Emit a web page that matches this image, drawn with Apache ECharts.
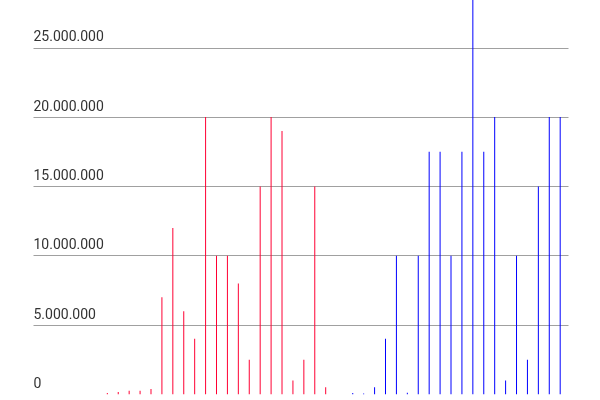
<!DOCTYPE html>
<html>
<head>
<meta charset="utf-8">
<script src="https://cdn.jsdelivr.net/npm/echarts@6/dist/echarts.min.js"></script>
<style>html,body{margin:0;padding:0;background:#fff}#c{width:600px;height:400px}</style>
</head>
<body>
<div id="c"></div>
<script>
// 49 categories (positions along the x axis)
var categories = [];
for (var i = 0; i < 49; i++) categories.push(String(i + 1));

// Red series: values at categories 7..27 (index 6..26)
var redValues = [
  null, null, null, null, null, null,
  100000, 170000, 260000, 250000, 380000, 7000000, 12000000, 6000000, 4000000,
  20000000, 10000000, 10000000, 8000000, 2500000, 15000000, 20000000, 19000000,
  1000000, 2500000, 15000000, 500000,
  null, null, null, null, null, null, null, null, null, null, null, null, null,
  null, null, null, null, null, null, null, null, null
];

// Blue series: values at categories 30..49 (index 29..48)
var blueValues = [
  null, null, null, null, null, null, null, null, null, null,
  null, null, null, null, null, null, null, null, null, null,
  null, null, null, null, null, null, null, null, null,
  100000, 60000, 500000, 4000000, 10000000, 120000, 10000000, 17500000, 17500000,
  10000000, 17500000, 30000000, 17500000, 20000000, 1000000, 10000000, 2500000,
  15000000, 20000000, 20000000
];

var yTicks = [0, 5000000, 10000000, 15000000, 20000000, 25000000];

function fmt(v) {
  return String(v).replace(/\B(?=(\d{3})+(?!\d))/g, '.');
}

var chart = echarts.init(document.getElementById('c'), null, {renderer: 'canvas'});
chart.setOption({
  animation: false,
  backgroundColor: '#ffffff',
  color: ['#0000ff', '#ff0033'],
  tooltip: {show: false},
  grid: {left: 33.5, width: 535, top: 47.8, bottom: 5.7, containLabel: false},
  xAxis: {
    type: 'category',
    data: categories,
    axisLine: {show: false},
    axisTick: {show: false},
    axisLabel: {show: false},
    axisPointer: {show: false},
    splitLine: {show: false}
  },
  yAxis: {
    type: 'value',
    min: yTicks[0],
    max: yTicks[yTicks.length - 1],
    interval: 5000000,
    axisLine: {show: false},
    axisTick: {show: false},
    splitLine: {show: true, showMinLine: false, showMaxLine: true, lineStyle: {color: '#a0a0a0', width: 1}},
    axisLabel: {
      inside: true,
      margin: 0,
      align: 'left',
      verticalAlign: 'bottom',
      padding: [0, 0, 3, 0],
      color: '#333333',
      fontFamily: 'Roboto',
      fontSize: 14,
      formatter: function (v) { return fmt(v); }
    }
  },
  series: [
    {
      name: 'blue',
      type: 'bar',
      data: blueValues,
      barWidth: 1,
      barGap: '470%',
      color: '#0000ff',
      itemStyle: {color: '#0000ff', borderWidth: 0},
      silent: true,
      emphasis: {disabled: true},
      clip: false
    },
    {
      name: 'red',
      type: 'bar',
      data: redValues,
      barWidth: 1,
      color: '#ff0033',
      itemStyle: {color: '#ff0033', borderWidth: 0},
      silent: true,
      emphasis: {disabled: true},
      clip: false
    }
  ]
});
</script>
</body>
</html>
